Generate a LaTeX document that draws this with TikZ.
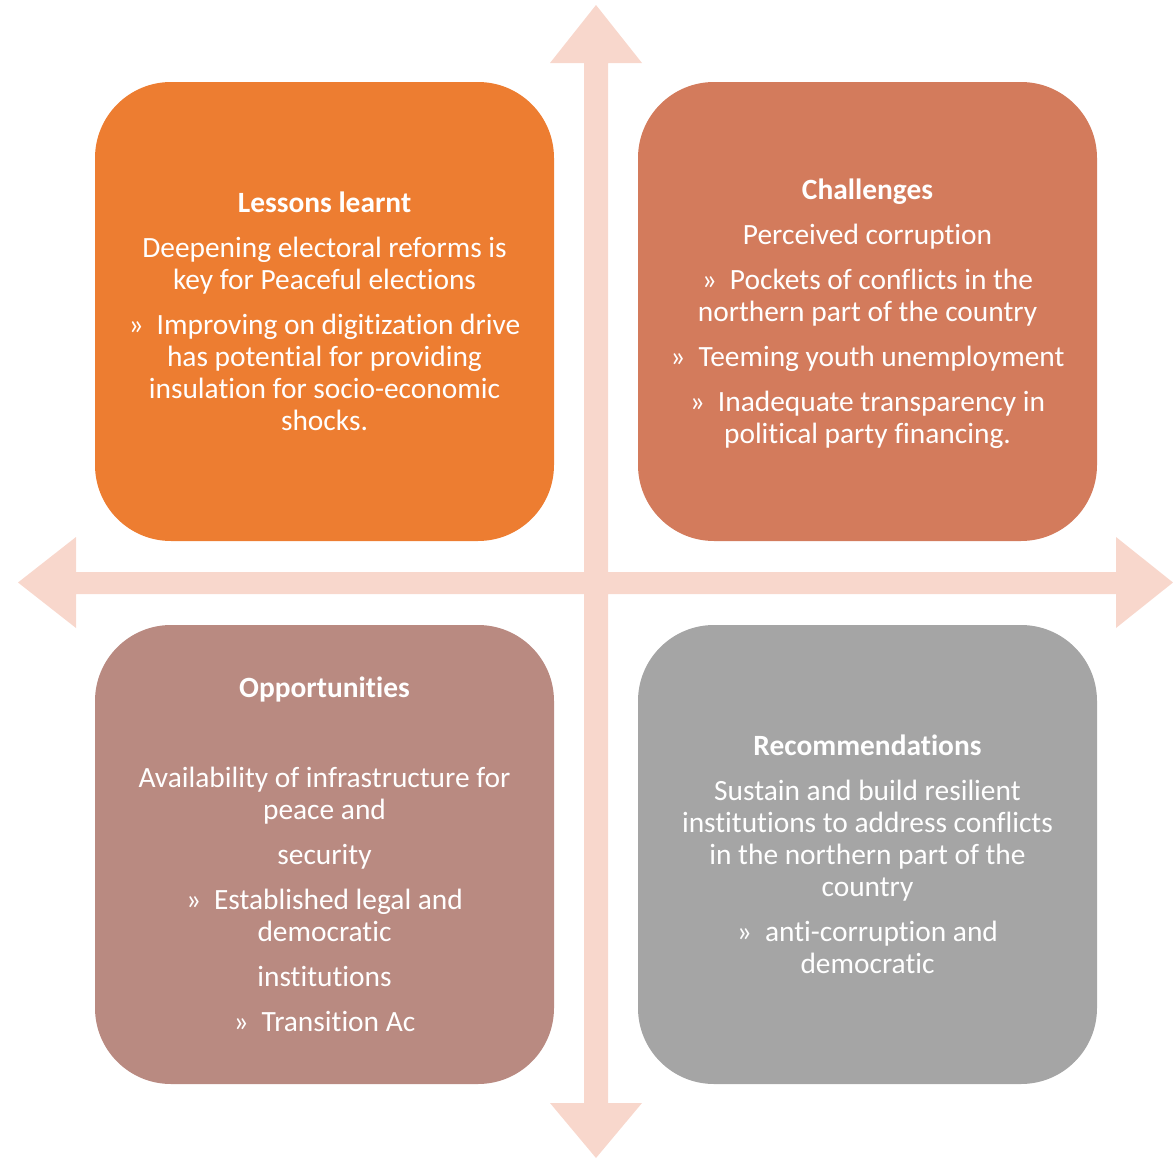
\documentclass[tikz,border=0pt]{standalone}
\usepackage{fontspec}
\setmainfont{Carlito}[Ligatures=NoCommon]
\definecolor{axisfill}{HTML}{F8D7CC}
\definecolor{lessonsfill}{HTML}{ED7D31}
\definecolor{challengesfill}{HTML}{D37B5C}
\definecolor{opportunitiesfill}{HTML}{B98A81}
\definecolor{recommendfill}{HTML}{A5A5A5}
% bullet marker with its gap
\newcommand\bulmark{»\hspace{13pt}}
% taller strut for the heading line, lowering the text block slightly
\newcommand\headstrut{\rule[-9.6pt]{0pt}{39pt}}
\begin{document}
\begin{tikzpicture}[x=1pt,y=-1pt,
  quadrant/.style={rectangle, rounded corners=76pt, minimum width=459pt,
    minimum height=459pt, inner sep=0pt, text=white, align=center,
    font=\fontsize{29.4}{32}\selectfont},
  axis/.style={fill=axisfill, draw=none}]
\useasboundingbox (0,0) rectangle (1173,1159);

% four-headed cross of axes
\fill[axis] (596,5) -- (642,63) -- (608,63) -- (608,572) -- (1116,572)
  -- (1116,537) -- (1173,582.5) -- (1116,628) -- (1116,594) -- (608,594)
  -- (608,1103) -- (642,1103) -- (596,1158) -- (550,1103) -- (584,1103)
  -- (584,594) -- (76,594) -- (76,628) -- (18,582.5) -- (76,537)
  -- (76,572) -- (584,572) -- (584,63) -- (550,63) -- cycle;

% quadrants
\node[quadrant, fill=lessonsfill] (lessons) at (324.5,311.5)
  {\headstrut\textbf{Lessons learnt}\\[13pt]
   Deepening electoral reforms is\strut\\
   key for Peaceful elections\strut\\[13pt]
   \bulmark Improving on digitization drive\strut\\
   has potential for providing\strut\\
   insulation for socio-economic\strut\\
   shocks.\strut};

\node[quadrant, fill=challengesfill] (challenges) at (867.5,311.5)
  {\headstrut\textbf{Challenges}\\[13pt]
   Perceived corruption\strut\\[13pt]
   \bulmark Pockets of conflicts in the\strut\\
   northern part of the country\strut\\[13pt]
   \bulmark Teeming youth unemployment\strut\\[13pt]
   \bulmark Inadequate transparency in\strut\\
   political party financing.\strut};

\node[quadrant, fill=opportunitiesfill] (opportunities) at (324.5,854.5)
  {\headstrut\textbf{Opportunities}\\[13pt]
   \strut\\[13pt]
   Availability of infrastructure for\strut\\
   peace and\strut\\[13pt]
   security\strut\\[13pt]
   \bulmark Established legal and\strut\\
   democratic\strut\\[13pt]
   institutions\strut\\[13pt]
   \bulmark Transition Ac\strut};

\node[quadrant, fill=recommendfill] (recommendations) at (867.5,854.5)
  {\headstrut\textbf{Recommendations}\\[13pt]
   Sustain and build resilient\strut\\
   institutions to address conflicts\strut\\
   in the northern part of the\strut\\
   country\strut\\[13pt]
   \bulmark anti-corruption and\strut\\
   democratic\strut};
\end{tikzpicture}
\end{document}
